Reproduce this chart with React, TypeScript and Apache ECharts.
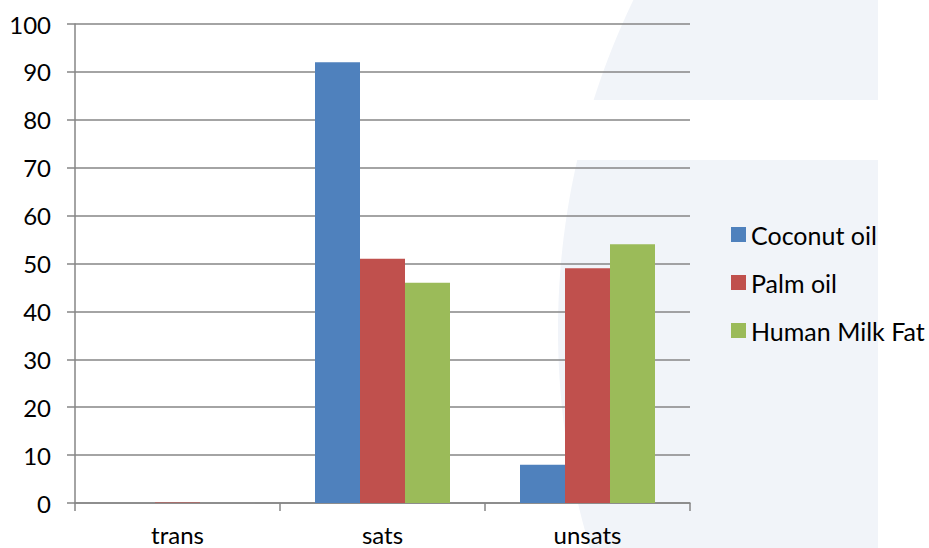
import React, { useEffect, useRef } from "react";
import * as echarts from "echarts";

const categories = ["trans", "sats", "unsats"];
const seriesNames = ["Coconut oil", "Palm oil", "Human Milk Fat"];
const coconutOil = [0, 92, 8];
const palmOil = [0.1, 51, 49];
const humanMilkFat = [0, 46, 54];
const seriesColors = ["#4F81BD", "#C0504D", "#9BBB59"];
const yMin = 0;
const yMax = 100;
const yStep = 10;

const FONT = "Lato, 'Open Sans', sans-serif";

// Pale backdrop: two horizontal bands cut from a large circle's left edge.
function arcBand(y0: number, y1: number, cx: number, cy: number, r: number, right: number) {
  const pts: number[][] = [];
  const steps = 40;
  for (let i = 0; i <= steps; i++) {
    const y = y0 + ((y1 - y0) * i) / steps;
    const dy = y - cy;
    pts.push([cx - Math.sqrt(r * r - dy * dy), y]);
  }
  pts.push([right, y1]);
  pts.push([right, y0]);
  return pts;
}

export default function App() {
  const ref = useRef<HTMLDivElement>(null);

  useEffect(() => {
    if (!ref.current) return;
    const chart = echarts.init(ref.current, undefined, { renderer: "svg" });
    const values = [coconutOil, palmOil, humanMilkFat];
    const bgColor = "#F1F4F9";
    const cx = 1318, cy = 330, r = 760, right = 878;

    chart.setOption({
      animation: false,
      backgroundColor: "#ffffff",
      textStyle: { fontFamily: FONT },
      graphic: [
        {
          type: "polygon",
          z: -10,
          silent: true,
          shape: { points: arcBand(0, 100, cx, cy, r, right) },
          style: { fill: bgColor },
        },
        {
          type: "polygon",
          z: -10,
          silent: true,
          shape: { points: arcBand(160, 548, cx, cy, r, right) },
          style: { fill: bgColor },
        },
      ],
      grid: { left: 75, right: 239, top: 24, bottom: 45, containLabel: false },
      legend: {
        orient: "vertical",
        left: 726,
        top: 217,
        itemWidth: 15,
        itemHeight: 15,
        itemGap: 23,
        icon: "rect",
        textStyle: { fontFamily: FONT, fontSize: 25, color: "#000", lineHeight: 25 },
        data: seriesNames,
      },
      xAxis: {
        type: "category",
        data: categories,
        axisLine: { lineStyle: { color: "#868686", width: 1.5 } },
        axisTick: { show: true, length: 8, alignWithLabel: false, lineStyle: { color: "#868686", width: 1.5 } },
        axisLabel: { fontFamily: FONT, fontSize: 24, lineHeight: 20, color: "#000", margin: 21 },
        splitLine: { show: false },
      },
      yAxis: {
        type: "value",
        min: yMin,
        max: yMax,
        interval: yStep,
        axisLine: { show: true, lineStyle: { color: "#868686", width: 1.5 } },
        axisTick: { show: true, length: 8, lineStyle: { color: "#868686", width: 1.5 } },
        axisLabel: { fontFamily: FONT, fontSize: 24, color: "#000", margin: 24 },
        splitLine: { show: true, lineStyle: { color: "#868686", width: 1.5 } },
      },
      series: seriesNames.map((name, i) => ({
        name,
        type: "bar",
        data: values[i],
        barWidth: 45,
        barGap: "0%",
        itemStyle: { color: seriesColors[i] },
      })),
    });

    return () => chart.dispose();
  }, []);

  return (
    <div
      ref={ref}
      style={{ position: "fixed", left: 0, top: 0, width: 929, height: 548 }}
    />
  );
}
